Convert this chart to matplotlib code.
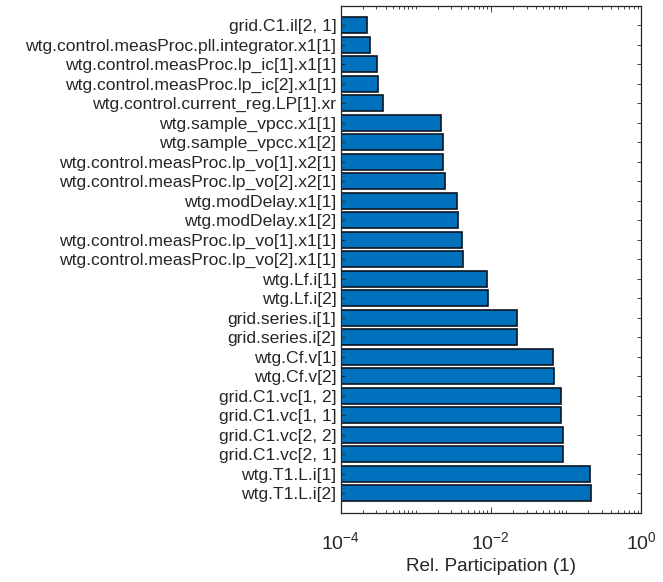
import numpy as np
import matplotlib.pyplot as plt
from matplotlib.ticker import FixedLocator, NullFormatter

labels = [
    "grid.C1.il[2, 1]",
    "wtg.control.measProc.pll.integrator.x1[1]",
    "wtg.control.measProc.lp_ic[1].x1[1]",
    "wtg.control.measProc.lp_ic[2].x1[1]",
    "wtg.control.current_reg.LP[1].xr",
    "wtg.sample_vpcc.x1[1]",
    "wtg.sample_vpcc.x1[2]",
    "wtg.control.measProc.lp_vo[1].x2[1]",
    "wtg.control.measProc.lp_vo[2].x2[1]",
    "wtg.modDelay.x1[1]",
    "wtg.modDelay.x1[2]",
    "wtg.control.measProc.lp_vo[1].x1[1]",
    "wtg.control.measProc.lp_vo[2].x1[1]",
    "wtg.Lf.i[1]",
    "wtg.Lf.i[2]",
    "grid.series.i[1]",
    "grid.series.i[2]",
    "wtg.Cf.v[1]",
    "wtg.Cf.v[2]",
    "grid.C1.vc[1, 2]",
    "grid.C1.vc[1, 1]",
    "grid.C1.vc[2, 2]",
    "grid.C1.vc[2, 1]",
    "wtg.T1.L.i[1]",
    "wtg.T1.L.i[2]",
]
participation = [
    2.12e-4, 2.40e-4, 2.94e-4, 3.03e-4, 3.57e-4,
    2.15e-3, 2.27e-3, 2.27e-3, 2.44e-3,
    3.52e-3, 3.67e-3, 4.15e-3, 4.32e-3,
    8.85e-3, 9.2e-3, 2.24e-2, 2.24e-2,
    6.82e-2, 6.89e-2, 8.63e-2, 8.63e-2, 9.10e-2, 9.10e-2,
    2.10e-1, 2.18e-1,
]
xticks = [1e-4, 1e-2, 1e0]
xticklabels = [r"$10^{-4}$", r"$10^{-2}$", r"$10^{0}$"]

plt.rcParams["font.family"] = ["Liberation Sans", "DejaVu Sans"]
plt.rcParams["mathtext.fontset"] = "custom"
plt.rcParams["mathtext.rm"] = "Liberation Sans"
plt.rcParams["mathtext.it"] = "Liberation Sans"

fig = plt.figure(figsize=(6.63, 5.82), dpi=100)
ax = fig.add_axes([0.5136, 0.119, 0.4532, 0.871])

ypos = np.arange(1, len(labels) + 1)
ax.barh(ypos, participation, height=0.82, left=1e-5, color="#0072BD",
        edgecolor="#0b1520", linewidth=1.2)
ax.set_xscale("log")
ax.set_xlim(1e-4, 1e0)
ax.set_ylim(len(labels) + 1, 0)
ax.set_yticks(ypos)
ax.set_yticklabels(labels, fontsize=12.6, color="#262626")

ax.xaxis.set_major_locator(FixedLocator(xticks))
ax.set_xticklabels(xticklabels, fontsize=14, color="#262626")
minor = [m * 10.0 ** e for e in range(-4, 0) for m in range(1, 10) if not (m == 1 and e % 2 == 0)]
ax.xaxis.set_minor_locator(FixedLocator(minor))
ax.xaxis.set_minor_formatter(NullFormatter())

ax.tick_params(axis="both", which="both", direction="in", top=True, right=True,
               color="#262626")
ax.tick_params(axis="y", length=3, width=0.6, pad=3)
ax.tick_params(axis="x", which="major", length=4, width=0.6, pad=13)
ax.tick_params(axis="x", which="minor", length=2.5, width=0.6)
for s in ax.spines.values():
    s.set_color("#262626")
    s.set_linewidth(0.9)

ax.set_xlabel("Rel. Participation (1)", fontsize=13.6, color="#262626", labelpad=4)

fig.savefig("out.png", dpi=100)
